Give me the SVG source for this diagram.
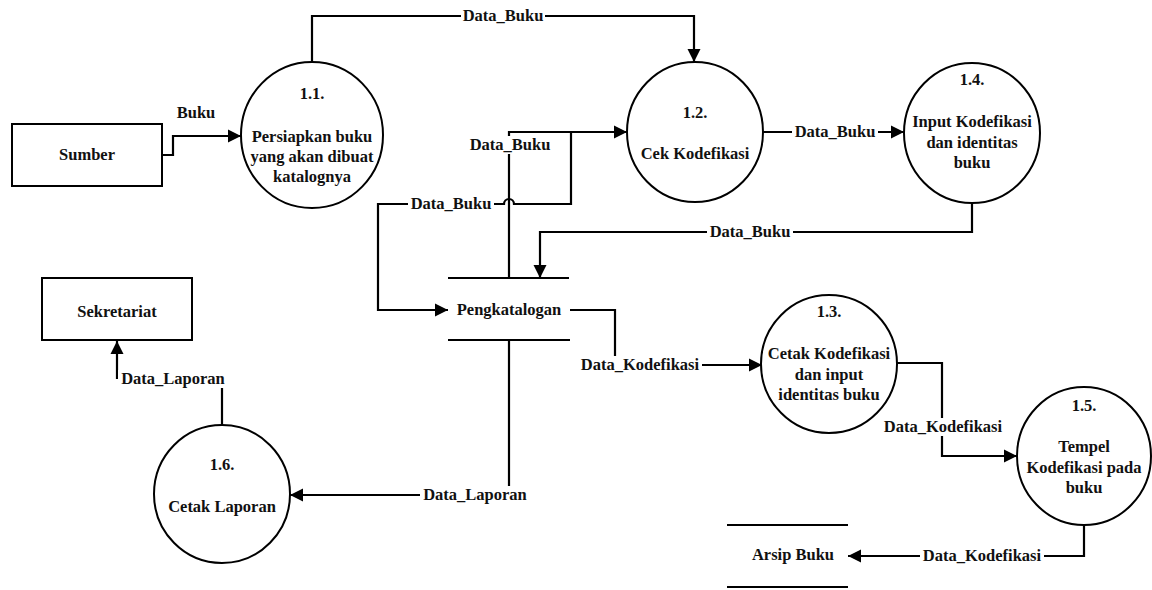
<svg xmlns="http://www.w3.org/2000/svg" width="1152" height="590" viewBox="0 0 1152 590" font-family="'Liberation Serif', 'Times New Roman', 'DejaVu Serif', serif" font-weight="bold" font-size="16.5">
  <style>
    text { font-family: 'Liberation Serif', 'Times New Roman', 'DejaVu Serif', serif; font-weight: 700; font-size: 16.5px; fill: #111; text-anchor: middle; }
    .shape { fill: #fff; stroke: #000; stroke-width: 2; }
    .store { stroke: #000; stroke-width: 2; fill: none; }
    .flow { fill: none; stroke: #000; stroke-width: 2.2; }
    .arrow { marker-end: url(#head); }
    .plate { fill: #fff; stroke: none; }
  </style>
  <defs>
    <marker id="head" markerUnits="userSpaceOnUse" markerWidth="14" markerHeight="14" viewBox="0 0 14 14" refX="13" refY="7" orient="auto">
      <path d="M0,0.5 L13,7 L0,13.5 z" fill="#000"/>
    </marker>
  </defs>
  <rect width="1152" height="590" fill="#fff"/>

  <!-- data flows -->
  <g id="connectors">
    <path class="flow arrow" d="M162,155 H173 V136 H241"/>
    <path class="flow arrow" d="M312,62 V16 H694 V62"/>
    <path class="flow arrow" d="M509,278 V132 H627"/>
    <path class="flow arrow" d="M571,132 V204 H514 A5,5 0 0 0 504,204 H378 V310 H448"/>
    <path class="flow arrow" d="M763,132 H904"/>
    <path class="flow arrow" d="M972,202 V232 H540 V278"/>
    <path class="flow arrow" d="M570,310 H615 V365 H762"/>
    <path class="flow arrow" d="M897,363 H942 V456 H1017"/>
    <path class="flow arrow" d="M1084,525 V556 H848"/>
    <path class="flow arrow" d="M509,340 V495 H290"/>
    <path class="flow arrow" d="M222,425 V378 H117 V341"/>

    <!-- white plates break the lines under the flow labels -->
    <rect class="plate" x="461" y="8" width="84" height="18"/>
    <rect class="plate" x="467" y="136" width="86" height="18"/>
    <rect class="plate" x="408" y="195" width="86" height="18"/>
    <rect class="plate" x="792" y="123" width="86" height="18"/>
    <rect class="plate" x="707" y="223" width="86" height="18"/>
    <rect class="plate" x="578" y="356" width="124" height="18"/>
    <rect class="plate" x="881" y="418" width="124" height="18"/>
    <rect class="plate" x="920" y="547" width="124" height="18"/>
    <rect class="plate" x="420" y="486" width="110" height="18"/>
    <rect class="plate" x="118" y="370" width="110" height="18"/>

    <text x="196" y="118">Buku</text>
    <text x="503" y="21">Data_Buku</text>
    <text x="510" y="150">Data_Buku</text>
    <text x="451" y="209">Data_Buku</text>
    <text x="835" y="137">Data_Buku</text>
    <text x="750" y="237">Data_Buku</text>
    <text x="640" y="370">Data_Kodefikasi</text>
    <text x="943" y="432">Data_Kodefikasi</text>
    <text x="982" y="561">Data_Kodefikasi</text>
    <text x="475" y="500">Data_Laporan</text>
    <text x="173" y="384">Data_Laporan</text>
  </g>

  <!-- external entities -->
  <g id="sumber">
    <rect class="shape" x="12" y="124" width="150" height="62"/>
    <text x="87" y="160">Sumber</text>
  </g>
  <g id="sekretariat">
    <rect class="shape" x="42" y="278" width="150" height="62"/>
    <text x="117" y="317">Sekretariat</text>
  </g>

  <!-- processes -->
  <g id="p1-1">
    <ellipse class="shape" cx="312" cy="135" rx="71" ry="73"/>
    <text x="312" y="99">1.1.</text>
    <text x="312" y="142">Persiapkan buku</text>
    <text x="312" y="162">yang akan dibuat</text>
    <text x="312" y="182">katalognya</text>
  </g>
  <g id="p1-2">
    <ellipse class="shape" cx="695" cy="132" rx="68" ry="70"/>
    <text x="695" y="118">1.2.</text>
    <text x="695" y="159">Cek Kodefikasi</text>
  </g>
  <g id="p1-4">
    <ellipse class="shape" cx="972" cy="133" rx="68" ry="70"/>
    <text x="972" y="85">1.4.</text>
    <text x="972" y="127">Input Kodefikasi</text>
    <text x="972" y="148">dan identitas</text>
    <text x="972" y="168">buku</text>
  </g>
  <g id="p1-3">
    <ellipse class="shape" cx="829" cy="364" rx="68" ry="69"/>
    <text x="829" y="317">1.3.</text>
    <text x="829" y="359">Cetak Kodefikasi</text>
    <text x="829" y="380">dan input</text>
    <text x="829" y="400">identitas buku</text>
  </g>
  <g id="p1-5">
    <ellipse class="shape" cx="1084" cy="456" rx="67" ry="69"/>
    <text x="1084" y="411">1.5.</text>
    <text x="1084" y="452">Tempel</text>
    <text x="1084" y="473">Kodefikasi pada</text>
    <text x="1084" y="493">buku</text>
  </g>
  <g id="p1-6">
    <ellipse class="shape" cx="222" cy="494" rx="68" ry="69"/>
    <text x="222" y="470">1.6.</text>
    <text x="222" y="512">Cetak Laporan</text>
  </g>

  <!-- data stores -->
  <g id="pengkatalogan">
    <line class="store" x1="448" y1="278" x2="569" y2="278"/>
    <line class="store" x1="448" y1="340" x2="570" y2="340"/>
    <text x="509" y="315">Pengkatalogan</text>
  </g>
  <g id="arsip-buku">
    <line class="store" x1="727" y1="525" x2="848" y2="525"/>
    <line class="store" x1="727" y1="587" x2="848" y2="587"/>
    <text x="793" y="560">Arsip Buku</text>
  </g>
</svg>
